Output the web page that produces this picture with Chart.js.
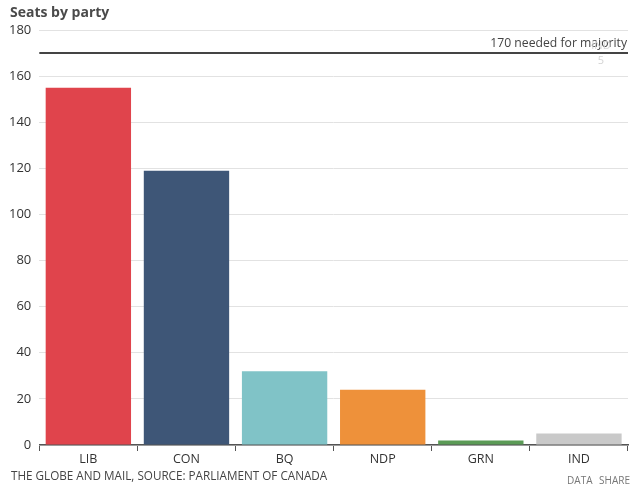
<!DOCTYPE html>
<html>
<head>
<meta charset="utf-8">
<script src="https://cdn.jsdelivr.net/npm/chart.js@4"></script>
<style>
  body { margin: 0; background: #fff; }
  #wrap { position: relative; width: 640px; height: 488px; }
  #title { position: absolute; left: 10px; top: 2px; font: bold 14px "Open Sans", sans-serif; color: #4a4a4a; }
  #source { position: absolute; left: 11px; top: 467px; font: 11.7px "Open Sans", sans-serif; color: #444; }
  #links { position: absolute; right: 10px; top: 473px; font: 10px "Open Sans", sans-serif; color: #777; word-spacing: 4px; }
</style>
</head>
<body>
<div id="wrap">
  <canvas id="seatsChart" width="640" height="488"></canvas>
  <div id="title">Seats by party</div>
  <div id="source">THE GLOBE AND MAIL, SOURCE: PARLIAMENT OF CANADA</div>
  <div id="links">DATA SHARE</div>
</div>
<script>
// Seats by party
const parties = ['LIB', 'CON', 'BQ', 'NDP', 'GRN', 'IND'];
const seats = [155, 119, 32, 24, 2, 5];
const partyColors = ['#e0444c', '#3e5677', '#80c3c7', '#ee913a', '#5b9b56', '#c9c9c9'];
const yTicks = [0, 20, 40, 60, 80, 100, 120, 140, 160, 180];
const majority = 170;

const majorityLine = {
    id: 'majorityLine',
    afterDatasetsDraw(chart) {
        const ctx = chart.ctx;
        const area = chart.chartArea;
        const y = chart.scales.y.getPixelForValue(majority);
        ctx.save();
        ctx.strokeStyle = '#444';
        ctx.lineWidth = 2;
        ctx.beginPath();
        ctx.moveTo(area.left, y);
        ctx.lineTo(area.right, y);
        ctx.stroke();
        ctx.fillStyle = '#444';
        ctx.font = '12.2px "Open Sans", sans-serif';
        ctx.textAlign = 'right';
        ctx.textBaseline = 'bottom';
        ctx.fillText(majority + ' needed for majority', area.right - 1, y - 3);
        // faded label of last bar
        const last = parties.length - 1;
        const x = chart.scales.x.getPixelForValue(last);
        ctx.fillStyle = '#d4d4d4';
        ctx.font = '11px "Open Sans", sans-serif';
        ctx.textAlign = 'center';
        ctx.textBaseline = 'middle';
        ctx.fillText(parties[last], x + 22, y - 7);
        ctx.fillText(String(seats[last]), x + 22, y + 8);
        ctx.restore();
    }
};

document.addEventListener('DOMContentLoaded', function() {
    const seatsCtx = document.getElementById('seatsChart');
    new Chart(seatsCtx, {
        type: 'bar',
        data: {
            labels: parties,
            datasets: [{
                label: 'Seats',
                data: seats,
                backgroundColor: partyColors,
                borderWidth: 0,
                barPercentage: 0.87,
                categoryPercentage: 1
            }]
        },
        options: {
            responsive: false,
            animation: false,
            layout: { padding: { top: 30, right: 12, bottom: 20, left: 1 } },
            plugins: {
                legend: { display: false },
                tooltip: { enabled: false }
            },
            scales: {
                x: {
                    grid: { offset: true, drawOnChartArea: false, drawTicks: true, tickLength: 6, color: '#555', lineWidth: 1 },
                    border: { color: '#555', width: 1.5 },
                    ticks: { color: '#333', font: { family: 'Open Sans', size: 12.5 }, padding: 1 }
                },
                y: {
                    min: 0,
                    max: 180,
                    afterBuildTicks: function(axis) {
                        axis.ticks = yTicks.map(v => ({ value: v }));
                    },
                    grid: { color: '#e2e2e2', drawTicks: false },
                    border: { display: false },
                    ticks: { color: '#333', font: { family: 'Open Sans', size: 13 }, padding: 8 }
                }
            }
        },
        plugins: [majorityLine]
    });
});
</script>
</body>
</html>
